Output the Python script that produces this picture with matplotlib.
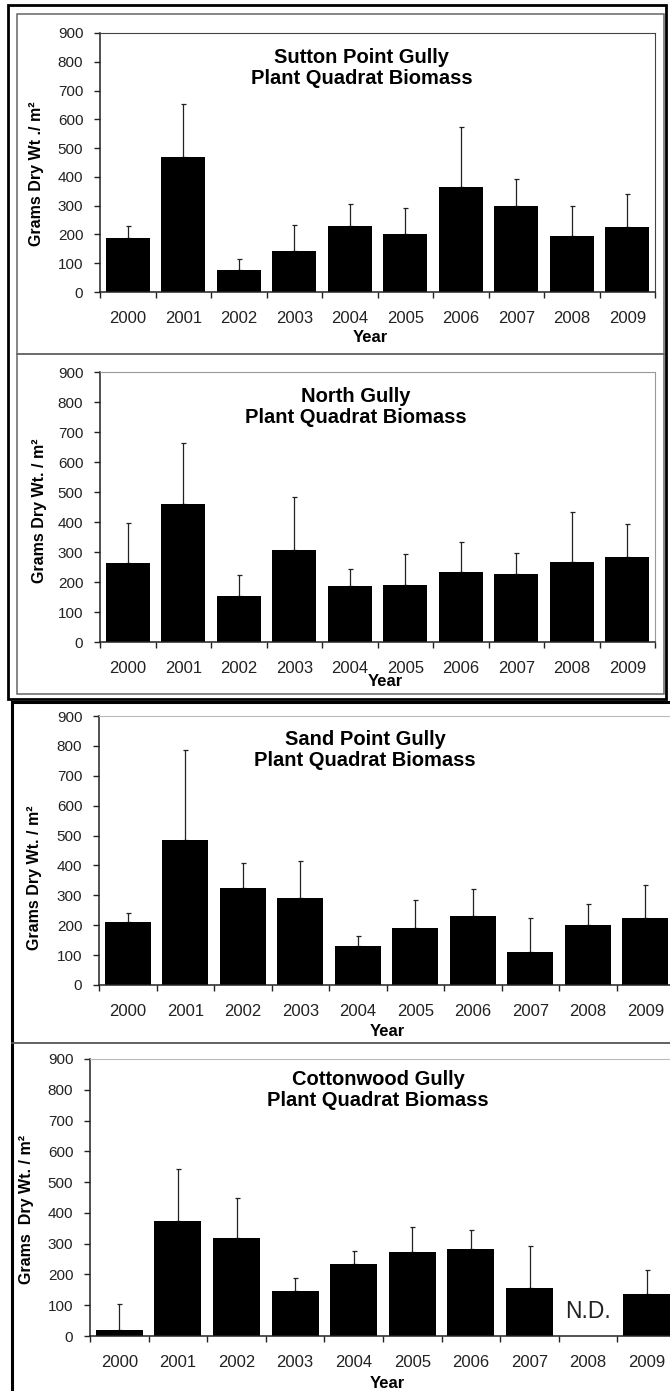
import matplotlib
matplotlib.use("Agg")
import matplotlib.pyplot as plt
import numpy as np
from matplotlib.patches import Rectangle
from matplotlib.lines import Line2D

# Данные (среднее и верхняя ошибка)
years = ["2000", "2001", "2002", "2003", "2004", "2005", "2006", "2007", "2008", "2009"]

sutton_mean = [188, 470, 75, 142, 231, 201, 366, 299, 194, 227]
sutton_err = [43, 182, 40, 91, 76, 90, 209, 92, 106, 113]

north_mean = [264, 460, 153, 306, 187, 189, 232, 226, 268, 284]
north_err = [134, 203, 72, 176, 57, 106, 100, 71, 166, 110]

sand_mean = [212, 485, 325, 291, 131, 192, 231, 111, 202, 223]
sand_err = [30, 300, 82, 124, 34, 94, 91, 113, 70, 111]

cotton_mean = [21, 373, 317, 146, 234, 274, 284, 156, np.nan, 137]
cotton_err = [82, 168, 133, 44, 41, 80, 61, 138, np.nan, 78]

W, H = 670, 1391
plt.rcParams['font.family'] = ['Liberation Sans', 'DejaVu Sans']
fig = plt.figure(figsize=(W / 100, H / 100), dpi=100)


def px_axes(left, top, right, bottom):
    return fig.add_axes([left / W, 1 - bottom / H, (right - left) / W, (bottom - top) / H])


def ftext(x, y, s, **kw):
    fig.text(x / W, 1 - y / H, s, ha='center', va='center', **kw)


def frame(left, top, right, bottom, color, lw):
    fig.add_artist(Rectangle((left / W, 1 - bottom / H), (right - left) / W, (bottom - top) / H,
                             transform=fig.transFigure, fill=False, edgecolor=color,
                             linewidth=lw, clip_on=False))


def hline(x0, x1, y, color, lw):
    fig.add_artist(Line2D([x0 / W, x1 / W], [1 - y / H, 1 - y / H],
                          transform=fig.transFigure, color=color, linewidth=lw))


def draw_panel(ax, means, errs, box_color):
    x = np.arange(len(years))
    means = np.array(means, dtype=float)
    errs = np.array(errs, dtype=float)
    ok = ~np.isnan(means)
    ax.bar(x[ok], means[ok], width=0.8, color='black', zorder=2)
    ax.errorbar(x[ok], means[ok], yerr=[np.zeros(ok.sum()), errs[ok]], fmt='none',
                ecolor='#222222', elinewidth=0.9, capsize=1.8, capthick=0.9, zorder=1)
    ax.set_xlim(-0.5, 9.5)
    ax.set_ylim(0, 900)
    ax.set_yticks(range(0, 1000, 100))
    ax.set_xticks(np.arange(-0.5, 10, 1))
    ax.set_xticklabels([])
    ax.set_xticks(x, minor=True)
    ax.set_xticklabels(years, minor=True)
    ax.tick_params(axis='x', which='major', direction='out', length=4, width=1, color='#222222')
    ax.tick_params(axis='x', which='minor', length=0, pad=14, labelsize=12, labelcolor='#222222')
    ax.tick_params(axis='y', direction='out', length=4, width=1, pad=8, labelsize=11,
                   labelcolor='#222222', color='#222222')
    ax.spines['left'].set_color('#222222')
    ax.spines['bottom'].set_color('#222222')
    ax.spines['left'].set_linewidth(1.1)
    ax.spines['bottom'].set_linewidth(1.1)
    ax.spines['top'].set_color(box_color)
    ax.spines['right'].set_color(box_color)


# рамки
frame(8, 5, 666, 699, 'black', 2)
frame(17, 14, 664, 354, '#666666', 1.1)
frame(17, 354, 664, 694, '#666666', 1.1)
frame(12, 702, 690, 1400, 'black', 2.2)
hline(12, 670, 1043, '#555555', 1.3)

ax1 = px_axes(100, 33, 655, 292)
draw_panel(ax1, sutton_mean, sutton_err, '#444444')
ax2 = px_axes(100, 372, 655, 642)
draw_panel(ax2, north_mean, north_err, '#999999')
ax3 = px_axes(99, 716, 674, 985)
draw_panel(ax3, sand_mean, sand_err, '#bbbbbb')
ax4 = px_axes(90, 1059, 676, 1336)
draw_panel(ax4, cotton_mean, cotton_err, '#bbbbbb')
ax4.text(8, 80, "N.D.", ha='center', va='center', fontsize=16.5, color='#222222')

# заголовки
ftext(362, 68, "Sutton Point Gully\nPlant Quadrat Biomass", fontsize=14.5, fontweight='bold', linespacing=1.15)
ftext(356, 407, "North Gully\nPlant Quadrat Biomass", fontsize=14.5, fontweight='bold', linespacing=1.15)
ftext(365, 750, "Sand Point Gully\nPlant Quadrat Biomass", fontsize=14.5, fontweight='bold', linespacing=1.15)
ftext(378, 1090, "Cottonwood Gully\nPlant Quadrat Biomass", fontsize=14.5, fontweight='bold', linespacing=1.15)

# подписи осей
ftext(37, 174, "Grams Dry Wt ./ m²", rotation=90, fontsize=11.5, fontweight='bold')
ftext(40, 511, "Grams Dry Wt. / m²", rotation=90, fontsize=11.5, fontweight='bold')
ftext(35, 878, "Grams Dry Wt. / m²", rotation=90, fontsize=11.5, fontweight='bold')
ftext(27, 1209, "Grams  Dry Wt. / m²", rotation=90, fontsize=11.5, fontweight='bold')

ftext(370, 337, "Year", fontsize=12, fontweight='bold')
ftext(385, 682, "Year", fontsize=12, fontweight='bold')
ftext(387, 1032, "Year", fontsize=12, fontweight='bold')
ftext(387, 1383, "Year", fontsize=12, fontweight='bold')

fig.savefig("out.png", dpi=100)
